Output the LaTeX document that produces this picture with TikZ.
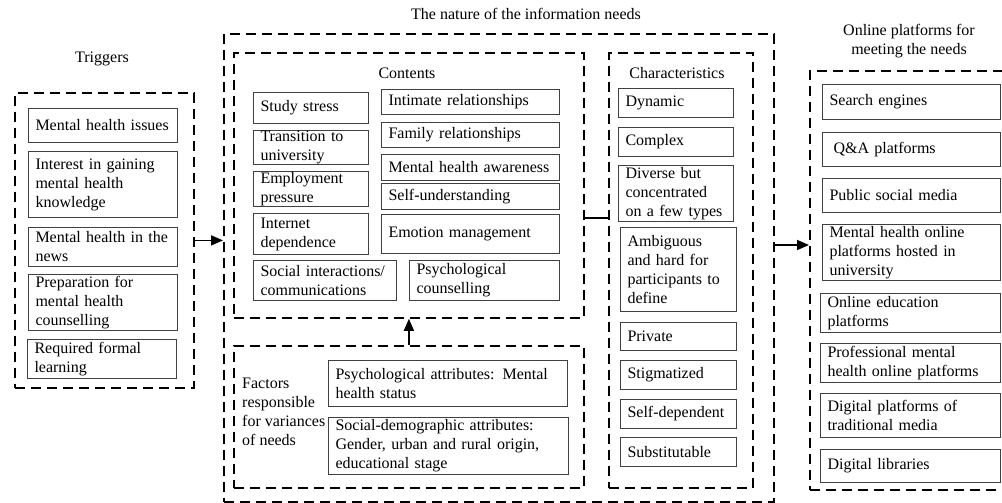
\documentclass[tikz,border=0pt]{standalone}
\usepackage{fontspec}
\setmainfont{Liberation Serif}
\usetikzlibrary{arrows.meta}
\newcommand\myfs{\fontsize{16}{19}\selectfont}
\tikzset{
  bx/.style={draw=black!75, line width=1pt, anchor=north west, align=left, inner xsep=7pt, inner ysep=0pt, font=\myfs},
  grp/.style={draw, line width=1.8pt, dash pattern=on 10pt off 6pt, anchor=north west, inner sep=0pt},
  ttl/.style={font=\myfs, align=center},
  arr/.style={line width=1.6pt, -{Triangle[length=12pt,width=10pt]}},
  ln/.style={line width=1.6pt}
}
\begin{document}
\begin{tikzpicture}[x=1pt,y=-1pt]
\useasboundingbox (0,0) rectangle (1002,503);
\clip (0,0) rectangle (1002,503);
% group containers
\node[grp, minimum width=179pt, minimum height=295pt] (trig) at (14,92) {};
\node[grp, minimum width=550pt, minimum height=468pt] (nat) at (223,33) {};
\node[grp, minimum width=350pt, minimum height=265pt] (cont) at (233,52) {};
\node[grp, minimum width=350pt, minimum height=142pt] (fac) at (233,345) {};
\node[grp, minimum width=144pt, minimum height=435pt] (chars) at (608,52) {};
\node[grp, minimum width=215pt, minimum height=419pt] (plat) at (809,70) {};
% titles
\node[ttl] (trigT) at (102,59) {Triggers};
\node[ttl] (natT) at (526,14) {The nature of the information needs};
\node[ttl] (platT) at (909,41) {Online platforms for\\meeting the needs};
\node[ttl] (contT) at (407,73) {Contents};
\node[ttl] (charT) at (677,73) {Characteristics};
% triggers
\node[bx, text width=135pt, minimum height=34pt] (t1) at (28,108) {Mental health issues};
\node[bx, text width=135pt, minimum height=66pt] (t2) at (28,151) {Interest in gaining\\mental health\\knowledge};
\node[bx, text width=135pt, minimum height=39pt] (t3) at (28,227) {Mental health in the\\news};
\node[bx, text width=135pt, minimum height=56pt] (t4) at (28,274) {Preparation for\\mental health\\counselling};
\node[bx, text width=135pt, minimum height=39pt] (t5) at (27,339) {Required formal\\learning};
% contents
\node[bx, text width=101pt, minimum height=31pt] (c1) at (253,92) {Study stress};
\node[bx, text width=101pt, minimum height=34pt] (c2) at (253,130) {Transition to\\university};
\node[bx, text width=101pt, minimum height=35pt] (c3) at (253,171) {Employment\\pressure};
\node[bx, text width=101pt, minimum height=41pt] (c4) at (253,213) {Internet\\dependence};
\node[bx, text width=129pt, minimum height=40pt] (c5) at (253,260) {Social interactions/\\communications};
\node[bx, text width=164pt, minimum height=25pt] (c6) at (381,89) {Intimate relationships};
\node[bx, text width=164pt, minimum height=25pt] (c7) at (381,122) {Family relationships};
\node[bx, text width=164pt, minimum height=26pt] (c8) at (381,154) {Mental health awareness};
\node[bx, text width=164pt, minimum height=26pt] (c9) at (381,183) {Self-understanding};
\node[bx, text width=164pt, minimum height=39pt] (c10) at (381,214) {Emotion management};
\node[bx, text width=136pt, minimum height=40pt] (c11) at (409,260) {Psychological\\counselling};
% factors
\node[font=\myfs, align=left, anchor=west, inner sep=0pt] (facT) at (242,412) {Factors\\responsible\\for variances\\of needs};
\node[bx, text width=225pt, minimum height=46pt] (f1) at (328,360) {Psychological attributes: Mental\\health status};
\node[bx, text width=226pt, minimum height=57pt] (f2) at (328,417) {Social-demographic attributes:\\Gender, urban and rural origin,\\educational stage};
% characteristics
\node[bx, text width=101pt, minimum height=29pt] (h1) at (618,88) {Dynamic};
\node[bx, text width=101pt, minimum height=29pt] (h2) at (618,127) {Complex};
\node[bx, text width=101pt, minimum height=56pt] (h3) at (618,165) {Diverse but\\concentrated\\on a few types};
\node[bx, text width=102pt, minimum height=84pt] (h4) at (620,227) {Ambiguous\\and hard for\\participants to\\define};
\node[bx, text width=102pt, minimum height=28pt] (h5) at (620,322) {Private};
\node[bx, text width=102pt, minimum height=29pt] (h6) at (620,360) {Stigmatized};
\node[bx, text width=102pt, minimum height=29pt] (h7) at (620,399) {Self-dependent};
\node[bx, text width=102pt, minimum height=29pt] (h8) at (620,437) {Substitutable};
% platforms
\node[bx, text width=164pt, minimum height=35pt] (p1) at (822,84) {Search engines};
\node[bx, text width=164pt, minimum height=34pt] (p2) at (822,132) {\hspace*{4pt}Q\&A platforms};
\node[bx, text width=164pt, minimum height=34pt] (p3) at (822,178) {Public social media};
\node[bx, text width=164pt, minimum height=56pt] (p4) at (822,224) {Mental health online\\platforms hosted in\\university};
\node[bx, text width=166pt, minimum height=39pt] (p5) at (820,293) {Online education\\platforms};
\node[bx, text width=166pt, minimum height=39pt] (p6) at (820,343) {Professional mental\\health online platforms};
\node[bx, text width=166pt, minimum height=44pt] (p7) at (820,393) {Digital platforms of\\traditional media};
\node[bx, text width=166pt, minimum height=33pt] (p8) at (820,449) {Digital libraries};
% connectors
\coordinate (j1) at (583,218);
\coordinate (j2) at (773,245);
\draw[arr] (trig.east) -- (trig.east -| nat.west);
\draw[arr] (fac.north) -- (cont.south);
\draw[ln] (cont.east |- j1) -- (chars.west |- j1);
\draw[arr] (nat.east |- j2) -- (plat.west |- j2);
\end{tikzpicture}
\end{document}
